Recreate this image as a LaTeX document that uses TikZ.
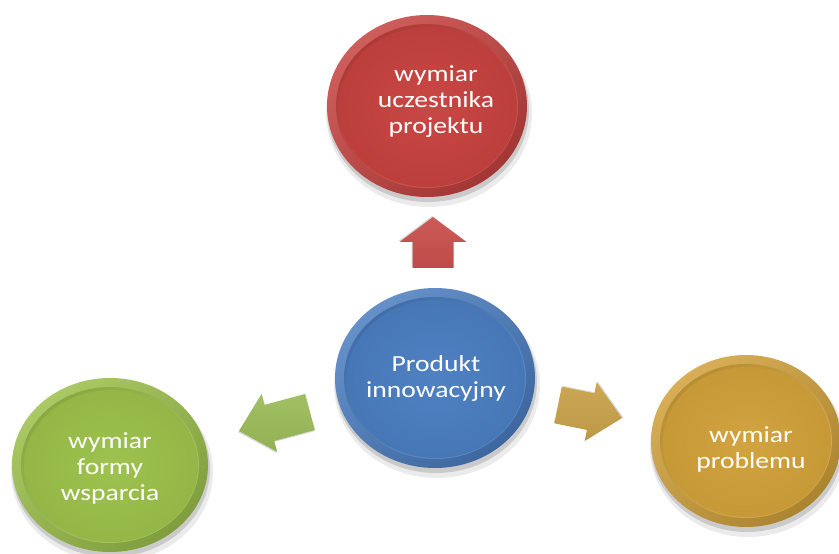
\documentclass[tikz,border=0pt]{standalone}
\usepackage{fontspec}
\setmainfont[FakeStretch=1.2]{Carlito}
\usetikzlibrary{shapes.geometric}
\definecolor{cred}{HTML}{C6423F}
\definecolor{cblue}{HTML}{4A7DC0}
\definecolor{cgreen}{HTML}{9BC04A}
\definecolor{cgold}{HTML}{D1A13A}
\definecolor{ared}{HTML}{C9504D}
\definecolor{agreen}{HTML}{9BBB59}
\definecolor{agold}{HTML}{C9A24A}
\tikzset{
  bubtext/.style={text=white, align=center, inner sep=0pt,
    font=\fontsize{23bp}{26bp}\selectfont},
  arrowshadow/.style={fill=black, opacity=.15},
}
% name, cx, cy, rx, ry, colour, text, tx, ty
\newcommand\bubble[9]{%
  \fill[black,opacity=.08] (#2+2,#3+7) ellipse [x radius=#4+3, y radius=#5+3];
  \fill[black,opacity=.14] (#2+1,#3+4) ellipse [x radius=#4+1, y radius=#5+1];
  \shade[top color=#6!85!white, bottom color=#6!82!black, shading angle=40]
    (#2,#3) ellipse [x radius=#4, y radius=#5];
  \shade[top color=#6!88!black, bottom color=#6!88!white, shading angle=40]
    (#2,#3) ellipse [x radius=#4-9, y radius=#5-9];
  \shade[inner color=#6!97!white, outer color=#6!95!black]
    (#2+1,#3+1) ellipse [x radius=#4-11, y radius=#5-11];
  \node[bubtext] (#1) at (#8,#9) {#7};
}
% name, cx, cy, angle, length, shaft half, head half, head length, colour
\newcommand\blockarrow[9]{%
  \begin{scope}[shift={(#2,#3)}, rotate=#4]
    \fill[arrowshadow] (-#5/2+1,-#6-1) -- (#5/2-#8+1,-#6-1) -- (#5/2-#8+1,-#7-1)
      -- (#5/2+1,-1) -- (#5/2-#8+1,#7-1) -- (#5/2-#8+1,#6-1) -- (-#5/2+1,#6-1) -- cycle;
    \shade[top color=#9!94!white, bottom color=#9!94!black]
      (-#5/2,-#6) -- (#5/2-#8,-#6) -- (#5/2-#8,-#7) -- (#5/2,0)
      -- (#5/2-#8,#7) -- (#5/2-#8,#6) -- (-#5/2,#6) -- cycle;
    \coordinate (#1) at (0,0);
  \end{scope}
}
\begin{document}
\begin{tikzpicture}[x=1bp,y=-1bp]
  \useasboundingbox (0,0) rectangle (839,554);
  \clip (0,0) rectangle (839,554);
  \bubble{red}{427}{106}{100}{91}{cred}{wymiar\\uczestnika\\projektu}{436}{102}
  \bubble{blue}{435}{378}{100}{90}{cblue}{Produkt\\innowacyjny}{436}{378}
  \bubble{green}{110}{465}{98}{87}{cgreen}{wymiar\\formy\\wsparcia}{110}{468}
  \bubble{gold}{746}{441}{95}{86}{cgold}{wymiar\\problemu}{751}{449}
  \blockarrow{aup}{433}{242.5}{90}{51}{20.5}{33.5}{25}{ared}
  \blockarrow{aleft}{274.5}{421.5}{195}{73.5}{18.7}{30}{31.5}{agreen}
  \blockarrow{aright}{590}{411.5}{-11.5}{65.3}{18.7}{30}{32}{agold}
\end{tikzpicture}
\end{document}
